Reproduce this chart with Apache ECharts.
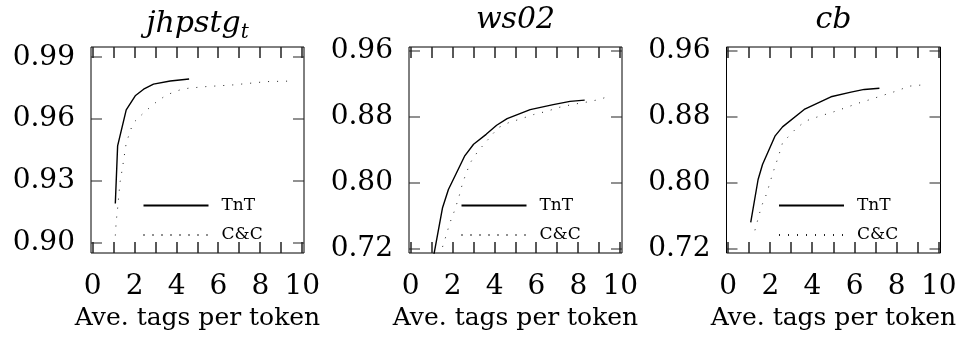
<!DOCTYPE html>
<html>
<head>
<meta charset="utf-8">
<script src="https://cdn.jsdelivr.net/npm/echarts@6/dist/echarts.min.js"></script>
<style>html,body{margin:0;padding:0;background:#fff}#c{width:972px;height:338px}</style>
</head>
<body>
<div id="c"></div>
<script>
// ---- data (x = average tags per token, y = accuracy) ----
const panelTitles = ['jhpstg', 'ws02', 'cb'];
const seriesNames = ['TnT', 'C&C'];
const xTickValues = [0, 1, 2, 3, 4, 5, 6, 7, 8, 9, 10];
const xLabelValues = [0, 2, 4, 6, 8, 10];
const yLabelValuesJhpstg = [0.90, 0.93, 0.96, 0.99];
const yLabelValuesOther = [0.72, 0.80, 0.88, 0.96];

const tntJhpstg = [[1.08,0.919],[1.19,0.947],[1.6,0.9645],[2.03,0.9713],[2.43,0.9745],[2.9,0.977],[3.7,0.9785],[4.6,0.9795]];
const ccJhpstg = [[1.08,0.9035],[1.12,0.910],[1.2,0.9177],[1.3,0.929],[1.42,0.9363],[1.6,0.9484],[1.92,0.958],[2.5,0.9637],[3.06,0.9685],[3.54,0.9718],[4.17,0.9742],[4.57,0.975],[5.44,0.9758],[6.7,0.9766],[8.29,0.9782],[9.63,0.9785]];
const tntWs02 = [[1.1,0.712],[1.52,0.770],[1.8,0.792],[2.2,0.813],[2.57,0.8325],[3.0,0.847],[3.6,0.859],[4.1,0.870],[4.6,0.878],[5.7,0.889],[6.8,0.895],[7.6,0.899],[8.3,0.9005]];
const ccWs02 = [[1.4,0.712],[1.49,0.720],[1.68,0.7353],[1.87,0.7516],[2.08,0.7656],[2.29,0.782],[2.45,0.7973],[2.65,0.8123],[2.89,0.8264],[3.21,0.8385],[3.69,0.8527],[4.17,0.867],[4.66,0.873],[5.3,0.8782],[5.86,0.883],[6.51,0.8871],[7.12,0.892],[7.72,0.8953],[8.36,0.898],[9.0,0.9013],[9.57,0.9062]];
const tntCb = [[1.07,0.7523],[1.42,0.8042],[1.63,0.8224],[2.22,0.8568],[2.58,0.8681],[3.61,0.8892],[4.88,0.9046],[5.83,0.9102],[6.46,0.9135],[7.18,0.915]];
const ccCb = [[1.27,0.7426],[1.58,0.7717],[1.83,0.7872],[2.0,0.8021],[2.19,0.8175],[2.39,0.8325],[2.58,0.8487],[3.18,0.8649],[3.66,0.875],[4.33,0.881],[4.96,0.8859],[5.56,0.8912],[6.14,0.8965],[6.75,0.9013],[7.33,0.9062],[7.97,0.9114],[8.6,0.9175],[9.47,0.9196]];

// ---- layout ----
const FONT = 'DejaVu Serif';
const grids = [
  {left: 91, top: 47, width: 213, height: 206},
  {left: 409, top: 47, width: 213, height: 206},
  {left: 726.5, top: 47, width: 214, height: 206}
];
const yRanges = [[0.895, 0.995], [0.715, 0.965], [0.715, 0.965]];
const yLabels = [yLabelValuesJhpstg, yLabelValuesOther, yLabelValuesOther];
const data = [[tntJhpstg, ccJhpstg], [tntWs02, ccWs02], [tntCb, ccCb]];
const xMin = -0.08, xMax = 10.08;
const TICK_LEN = 11;

const xAxes = [], yAxes = [], series = [], legends = [], titles = [];
grids.forEach((g, i) => {
  xAxes.push({
    type: 'value', gridIndex: i, min: xMin, max: xMax, position: 'bottom',
    axisLine: {show: false}, axisTick: {show: false},
    axisLabel: {customValues: xLabelValues, color: '#000', fontFamily: FONT, fontSize: 28, margin: 20},
    splitLine: {show: false},
    name: 'Ave. tags per token', nameLocation: 'middle', nameGap: 48,
    nameTextStyle: {color: '#000', fontFamily: FONT, fontSize: 25}
  });
  yAxes.push({
    type: 'value', gridIndex: i, min: yRanges[i][0], max: yRanges[i][1], position: 'left',
    axisLine: {show: false}, axisTick: {show: false},
    axisLabel: {customValues: yLabels[i], color: '#000', fontFamily: FONT, fontSize: 28, margin: 16,
      formatter: v => v.toFixed(2)},
    splitLine: {show: false}
  });

  // inward tick marks on all four sides, placed through the panel's own axes
  const tickData = xTickValues.map(v => [v, yRanges[i][0] + 0.001, 0])
    .concat(yLabels[i].map(v => [xMin + 0.01, v, 1]));
  series.push({
    type: 'custom', xAxisIndex: i, yAxisIndex: i, silent: true, z: 3, clip: false,
    data: tickData,
    renderItem: (params, api) => {
      const cs = params.coordSys;
      const p = api.coord([api.value(0), api.value(1)]);
      const st = {fill: '#222'};
      if (api.value(2) === 0) {
        const x = Math.round(p[0]);
        const b = cs.y + cs.height, t = cs.y;
        return {type: 'group', children: [
          {type: 'rect', shape: {x: x - 0.75, y: b - TICK_LEN, width: 1.5, height: TICK_LEN}, style: st},
          {type: 'rect', shape: {x: x - 0.75, y: t, width: 1.5, height: TICK_LEN}, style: st}
        ]};
      }
      const y = Math.round(p[1]);
      const l = cs.x, r = cs.x + cs.width;
      return {type: 'group', children: [
        {type: 'rect', shape: {x: l, y: y - 0.5, width: TICK_LEN, height: 1}, style: st},
        {type: 'rect', shape: {x: r - TICK_LEN, y: y - 0.5, width: TICK_LEN, height: 1}, style: st}
      ]};
    }
  });

  series.push({
    type: 'line', name: seriesNames[0], xAxisIndex: i, yAxisIndex: i, data: data[i][0],
    showSymbol: false, symbol: 'none', clip: true,
    lineStyle: {color: '#000', width: 1.4, type: 'solid'}, itemStyle: {color: '#000'}
  });
  series.push({
    type: 'line', name: seriesNames[1], xAxisIndex: i, yAxisIndex: i, data: data[i][1],
    showSymbol: false, symbol: 'none', clip: true,
    lineStyle: {color: '#222', width: 1, type: [1, 8]}, itemStyle: {color: '#222'}
  });
  legends.push({
    data: seriesNames, orient: 'vertical', left: g.left + 51.5, top: 197, padding: 0,
    itemWidth: 65, itemHeight: 14, itemGap: 12.5, selectedMode: false,
    itemStyle: {opacity: 0},
    textStyle: {color: '#000', fontFamily: FONT, fontSize: 17, padding: [0, 0, 0, 8]}
  });
  const cx = g.left + g.width / 2;
  titles.push({
    text: i === 0 ? '{m|' + panelTitles[0] + '}{s|t}' : '{m|' + panelTitles[i] + '}',
    left: cx, top: 5, textAlign: 'center', padding: 0,
    textStyle: {
      color: '#000', fontFamily: FONT, fontStyle: 'italic', fontWeight: 'normal', fontSize: 30,
      rich: {
        m: {color: '#000', fontFamily: FONT, fontStyle: 'italic', fontSize: 30},
        s: {color: '#000', fontFamily: FONT, fontStyle: 'italic', fontSize: 20, padding: [18, 0, 0, 0]}
      }
    }
  });
});

const chart = echarts.init(document.getElementById('c'), null, {renderer: 'canvas'});
chart.setOption({
  backgroundColor: '#fff',
  animation: false,
  tooltip: {show: false},
  title: titles,
  legend: legends,
  grid: grids.map(g => Object.assign({show: true, borderColor: '#000', borderWidth: 1}, g)),
  xAxis: xAxes,
  yAxis: yAxes,
  series: series
});
</script>
</body>
</html>
